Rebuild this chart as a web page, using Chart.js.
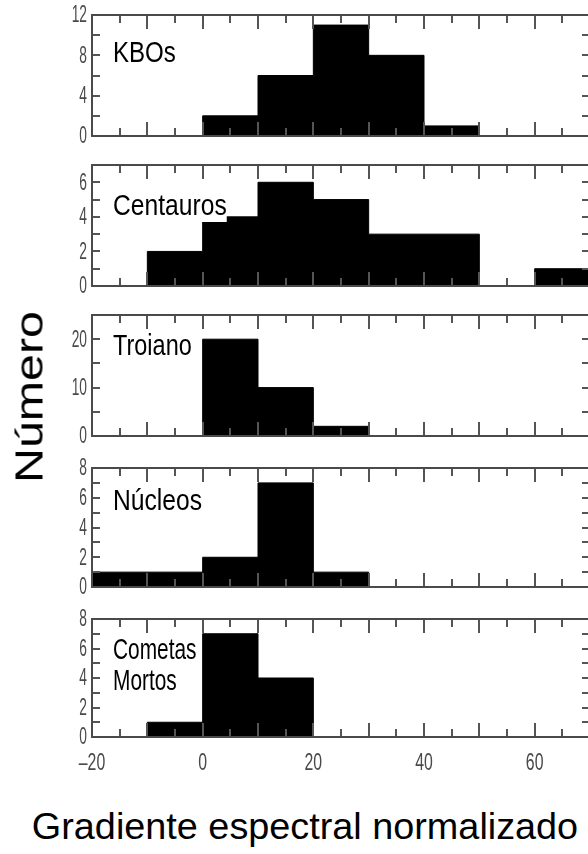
<!DOCTYPE html>
<html>
<head>
<meta charset="utf-8">
<script src="https://cdn.jsdelivr.net/npm/chart.js@4.4.1/dist/chart.umd.min.js"></script>
<style>
  html, body { margin: 0; padding: 0; background: #fff; overflow: hidden; }
  #wrap { position: relative; width: 588px; height: 854px; overflow: hidden; }
  .panel { position: absolute; left: 0; }
  #ytitle {
    position: absolute; left: 29px; top: 397px;
    font-family: "Liberation Sans", Arial, sans-serif; font-size: 39px; line-height: 1;
    white-space: nowrap; color: #000;
    transform: translate(-50%, -50%) rotate(-90deg) scaleX(1.24);
  }
  #xtitle {
    position: absolute; left: 305px; top: 827px;
    font-family: "Liberation Sans", Arial, sans-serif; font-size: 36px; line-height: 1;
    white-space: nowrap; color: #000;
    transform: translate(-50%, -50%) scaleX(1.05);
  }
</style>
</head>
<body>
<div id="wrap">
  <div class="panel" id="p0"><canvas id="c0"></canvas></div>
  <div class="panel" id="p1"><canvas id="c1"></canvas></div>
  <div class="panel" id="p2"><canvas id="c2"></canvas></div>
  <div class="panel" id="p3"><canvas id="c3"></canvas></div>
  <div class="panel" id="p4"><canvas id="c4"></canvas></div>
  <div id="ytitle">Número</div>
  <div id="xtitle">Gradiente espectral normalizado</div>
</div>
<script>
// bins de 10 en el gradiente espectral
const binStarts = [-20, -10, 0, 10, 20, 30, 40, 50, 60];
const binEnd = 70;

// conteos por bin
const kbos      = [0, 0, 2, 6, 11, 8, 1, 0, 0];
const centauros = [0, 2, 4, 6, 5, 3, 3, 0, 1];
const troianos  = [0, 0, 20, 10, 2, 0, 0, 0, 0];
const nucleos   = [1, 1, 2, 7, 1, 0, 0, 0, 0];
const cometas   = [0, 1, 7, 4, 0, 0, 0, 0, 0];

// ticks
const xTickLabels = [-20, 0, 20, 40, 60];
const yTicksKbos = [0, 4, 8, 12];
const yTicksCentauros = [0, 2, 4, 6];
const yTicksTroianos = [0, 10, 20];
const yTicksNucleos = [0, 2, 4, 6, 8];
const yTicksCometas = [0, 2, 4, 6, 8];

const FONT = '"Liberation Sans", Arial, sans-serif';
const PAD = 14;

const panels = [
  { counts: kbos,      yMax: 12, yTicks: yTicksKbos,      minor: 2, top: 15,  bottom: 136, names: ['KBOs'],      base: [47], sx: 0.83 },
  { counts: centauros, yMax: 7,  yTicks: yTicksCentauros, minor: 1, top: 165, bottom: 286, names: ['Centauros'], base: [50], sx: 0.85 },
  { counts: troianos,  yMax: 25, yTicks: yTicksTroianos,  minor: 5, top: 315, bottom: 436, names: ['Troiano'],   base: [40], sx: 0.81 },
  { counts: nucleos,   yMax: 8,  yTicks: yTicksNucleos,   minor: 1, top: 468, bottom: 587, names: ['Núcleos'],   base: [42], sx: 0.85 },
  { counts: cometas,   yMax: 8,  yTicks: yTicksCometas,   minor: 1, top: 619, bottom: 737, names: ['Cometas', 'Mortos'], base: [40, 71], sx: 0.72 }
];

// texto estrecho (la figura original usa una fuente condensada)
function narrowText(ctx, text, x, y, size, sx, align, baseline, color) {
  ctx.save();
  ctx.translate(x, y);
  ctx.scale(sx, 1);
  ctx.font = size + 'px ' + FONT;
  ctx.textAlign = align;
  ctx.textBaseline = baseline;
  ctx.fillStyle = color;
  ctx.fillText(text, 0, 0);
  ctx.restore();
}

// marco, ticks hacia adentro, etiquetas de ticks y nombre del panel
const frameTicks = {
  id: 'frameTicks',
  afterDatasetsDraw(chart, args, opts) {
    const { ctx, chartArea: a, scales: { x, y } } = chart;
    ctx.save();

    opts.names.forEach((t, i) => {
      const bx = a.left + 21, by = a.top + opts.base[i];
      ctx.font = '29px ' + FONT;
      const w = ctx.measureText(t).width * opts.sx;
      ctx.fillStyle = '#fff';
      ctx.fillRect(bx - 2, by - 24, w + 2, 31);
      narrowText(ctx, t, bx, by, 29, opts.sx, 'left', 'alphabetic', '#000');
    });

    ctx.strokeStyle = '#555';
    ctx.lineWidth = 2;
    ctx.beginPath();
    for (let v = -15; v < binEnd; v += 5) {
      const px = Math.round(x.getPixelForValue(v));
      const len = v % 10 === 0 ? 14 : 8;
      ctx.moveTo(px, a.top); ctx.lineTo(px, a.top + len);
      ctx.moveTo(px, a.bottom); ctx.lineTo(px, a.bottom - len);
    }
    for (let v = opts.minor; v < opts.yMax; v += opts.minor) {
      const py = Math.round(y.getPixelForValue(v));
      ctx.moveTo(a.left, py); ctx.lineTo(a.left + 8, py);
      ctx.moveTo(a.right, py); ctx.lineTo(a.right - 8, py);
    }
    ctx.stroke();
    ctx.strokeStyle = '#4a4a4a';
    ctx.strokeRect(a.left, a.top, a.right - a.left, a.bottom - a.top);

    y.ticks.forEach(t => {
      narrowText(ctx, String(t.value), a.left - 5, y.getPixelForValue(t.value) + 1, 23, 0.6, 'right', 'middle', '#4a4a4a');
    });
    if (opts.xLabels) {
      x.ticks.forEach(t => {
        const s = t.value < 0 ? '\u2013' + Math.abs(t.value) : String(t.value);
        narrowText(ctx, s, x.getPixelForValue(t.value), a.bottom + 26, 24, 0.66, 'center', 'middle', '#4a4a4a');
      });
    }
    ctx.restore();
  }
};

panels.forEach((p, i) => {
  const isBottom = i === panels.length - 1;
  const xAxisH = isBottom ? 40 : 0;
  const padB = isBottom ? 4 : PAD;
  const h = PAD + (p.bottom - p.top) + xAxisH + padB;

  const box = document.getElementById('p' + i);
  box.style.top = (p.top - PAD) + 'px';
  const canvas = document.getElementById('c' + i);
  canvas.width = 594;
  canvas.height = h;

  const pts = binStarts.map((b, k) => ({ x: b, y: p.counts[k] }));
  pts.push({ x: binEnd, y: p.counts[p.counts.length - 1] });

  new Chart(canvas, {
    type: 'line',
    data: {
      datasets: [{
        data: pts,
        stepped: 'before',
        fill: 'origin',
        backgroundColor: '#000',
        borderColor: '#000',
        borderWidth: 1,
        pointRadius: 0
      }]
    },
    options: {
      responsive: false,
      animation: false,
      layout: { padding: { top: PAD, bottom: padB, left: 0, right: 4 } },
      plugins: {
        legend: { display: false },
        tooltip: { enabled: false },
        frameTicks: { names: p.names, base: p.base, sx: p.sx, minor: p.minor, yMax: p.yMax, xLabels: isBottom }
      },
      scales: {
        x: {
          type: 'linear', min: -20, max: binEnd,
          grid: { display: false, drawTicks: false },
          border: { display: false },
          ticks: { display: false },
          afterBuildTicks: s => { s.ticks = xTickLabels.map(v => ({ value: v })); },
          afterFit: s => { s.height = xAxisH; }
        },
        y: {
          min: 0, max: p.yMax,
          grid: { display: false, drawTicks: false },
          border: { display: false },
          ticks: { display: false },
          afterBuildTicks: s => { s.ticks = p.yTicks.map(v => ({ value: v })); },
          afterFit: s => { s.width = 92; }
        }
      }
    },
    plugins: [frameTicks]
  });
});
</script>
</body>
</html>
